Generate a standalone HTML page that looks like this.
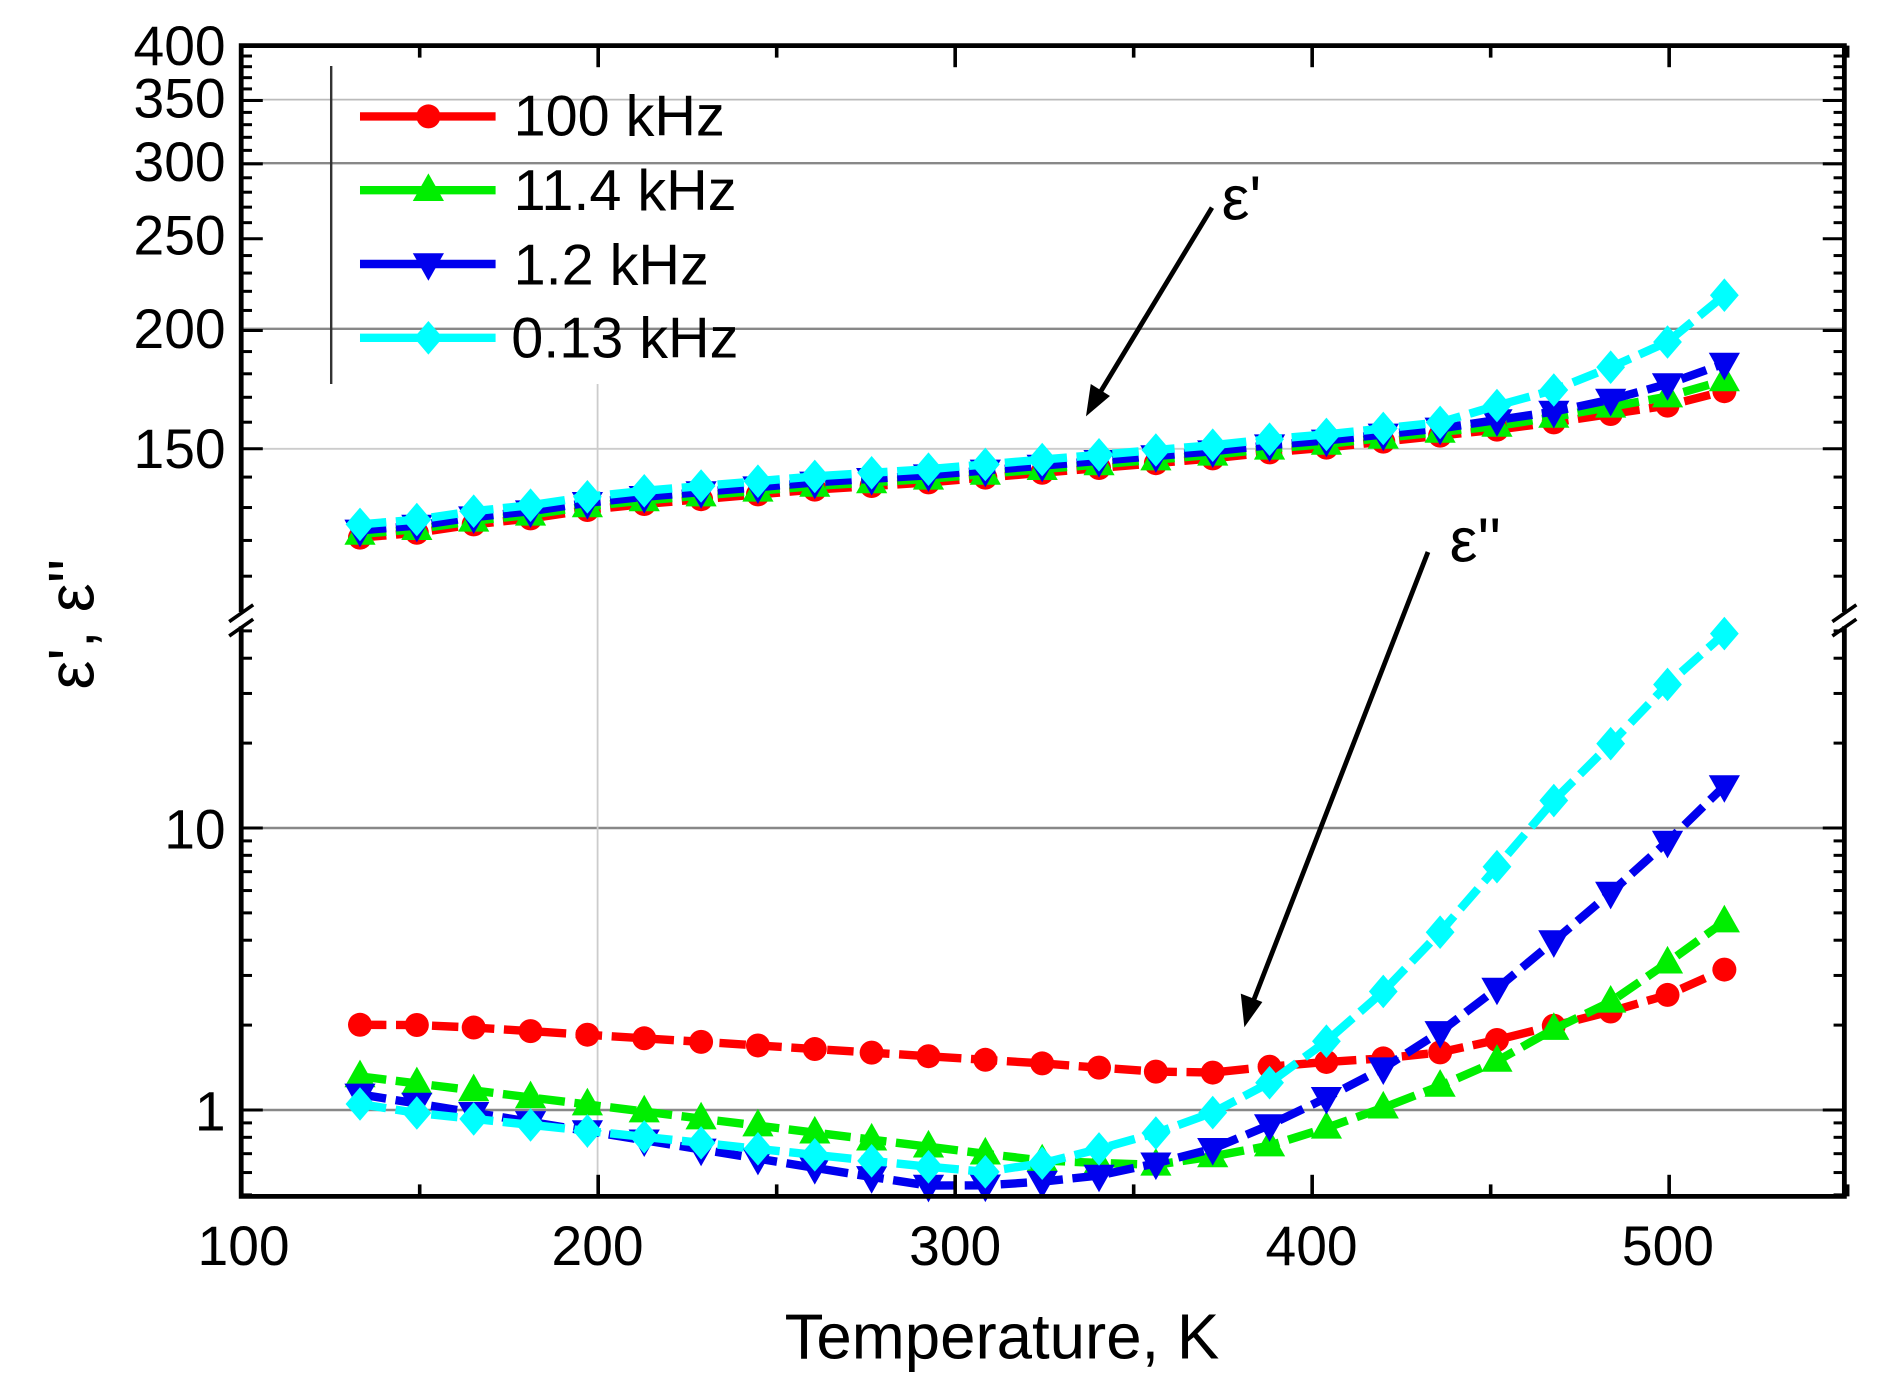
<!DOCTYPE html>
<html><head><meta charset="utf-8"><style>
html,body{margin:0;padding:0;background:#fff;}
svg{display:block;}
text{font-family:"Liberation Sans",Arial,sans-serif;fill:#000;}
</style></head><body>
<svg id="s" width="1880" height="1383" viewBox="0 0 1566.7 1152.5" xmlns="http://www.w3.org/2000/svg">
<g id="grid"></g>
<g id="data"></g>
<g id="axes"></g>
<line x1="276" y1="55" x2="276" y2="320" stroke="#333" stroke-width="2"/>
<g id="leg"></g>
<g font-size="48">
<text x="428" y="113">100 kHz</text>
<text x="428" y="175">11.4 kHz</text>
<text x="428" y="237">1.2 kHz</text>
<text x="426" y="298">0.13 kHz</text>
</g>
<line x1="1010" y1="173" x2="915" y2="330" stroke="#000" stroke-width="4"/>
<polygon points="905,347 909,320 925,330" fill="#000"/>
<text x="1018" y="183" font-size="52">ε'</text>
<line x1="1190" y1="460" x2="1043" y2="838" stroke="#000" stroke-width="4"/>
<polygon points="1037,856 1034,828 1052,835" fill="#000"/>
<text x="1208" y="468" font-size="52">ε''</text>
<g font-size="46" text-anchor="end">
<text x="188" y="54">400</text><text x="188" y="98">350</text><text x="188" y="151">300</text>
<text x="188" y="212">250</text><text x="188" y="290">200</text><text x="188" y="390">150</text>
<text x="188" y="707">10</text><text x="188" y="942">1</text>
</g>
<g font-size="46" text-anchor="middle">
<text x="203" y="1054">100</text><text x="498" y="1054">200</text><text x="796" y="1054">300</text>
<text x="1093" y="1054">400</text><text x="1390" y="1054">500</text>
</g>
<text x="835" y="1132" font-size="53" text-anchor="middle">Temperature, K</text>
<text transform="translate(78,520) rotate(-90)" font-size="54" text-anchor="middle">ε', ε''</text>
</svg>
<script>
const NS="http://www.w3.org/2000/svg";
function el(p,t,a){const e=document.createElementNS(NS,t);for(const k in a)e.setAttribute(k,a[k]);p.appendChild(e);return e;}
const grid=document.getElementById('grid'),axes=document.getElementById('axes'),data=document.getElementById('data'),leg=document.getElementById('leg');
const L=201,R=1537,T=38,B=997;
[[83,'#bbb',1.5],[136,'#888',2],[274,'#888',2],[374,'#ccc',1.5],[690,'#888',2],[925,'#888',2]].forEach(g=>el(grid,'line',{x1:L,x2:R,y1:g[0],y2:g[0],stroke:g[1],'stroke-width':g[2]}));
el(grid,'line',{x1:498,x2:498,y1:320,y2:B,stroke:'#ccc','stroke-width':1.5});
const bk1=510,bk2=522;
const ax={stroke:'#000','stroke-width':4,fill:'none'};
el(axes,'path',Object.assign({d:`M${L},${bk1} L${L},${T} L${R},${T} L${R},${bk1} M${R},${bk2} L${R},${B} L${L},${B} L${L},${bk2}`},ax));
[[L],[R]].forEach(([x])=>{el(axes,'line',{x1:x-10,y1:bk1+8,x2:x+10,y2:bk1-6,stroke:'#000','stroke-width':3});el(axes,'line',{x1:x-10,y1:bk2+8,x2:x+10,y2:bk2-6,stroke:'#000','stroke-width':3});});
for(let v=100;v<=550;v+=50){const x=L+(v-100)*2.975;const len=(v%100==0)?18:10;
 el(axes,'line',{x1:x,x2:x,y1:B,y2:B-len,stroke:'#000','stroke-width':3});el(axes,'line',{x1:x,x2:x,y1:T,y2:T+len,stroke:'#000','stroke-width':3});}
const yTop=v=>T+(Math.log(400)-Math.log(v))*342.5;
for(let v=110;v<=400;v+=10){const y=yTop(v);if(y>bk1)continue;const len=(v%50==0)?18:9;
 el(axes,'line',{x1:L,x2:L+len,y1:y,y2:y,stroke:'#000','stroke-width':2.5});el(axes,'line',{x1:R,x2:R-len,y1:y,y2:y,stroke:'#000','stroke-width':2.5});}
const yBot=v=>925-Math.log10(v)*235;
[0.5,0.6,0.7,0.8,0.9,1,2,3,4,5,6,7,8,9,10,20,30,40,50].forEach(v=>{const y=yBot(v);if(y<bk2||y>B)return;const len=(v==1||v==10)?18:9;
 el(axes,'line',{x1:L,x2:L+len,y1:y,y2:y,stroke:'#000','stroke-width':2.5});el(axes,'line',{x1:R,x2:R-len,y1:y,y2:y,stroke:'#000','stroke-width':2.5});});
const xs=[];for(let i=0;i<25;i++)xs.push(300+i*(1137/24));
function interp(anch){const out=[];for(let i=0;i<25;i++){const x=xs[i];let j=0;while(j<anch.length-2&&anch[j+1][0]<x)j++;const a=anch[j],b=anch[j+1];out.push(a[1]+(b[1]-a[1])*(x-a[0])/(b[0]-a[0]));}return out;}
const redT=[448,444,437,432,425,420,416,412,408,405,402,398,394,390,386,382,377,373,368,363,358,352,345,338,326];
const greenT=redT.map((v,i)=>v-3-(i>20?(i-20)*1.5:0));
const blueT=redT.map((v,i)=>v-6);blueT[21]=343;blueT[22]=333;blueT[23]=320;blueT[24]=303;blueT[20]=350;
const cyanT=redT.map((v,i)=>v-11);cyanT[20]=338;cyanT[21]=325;cyanT[22]=306;cyanT[23]=285;cyanT[24]=246;
const redB=interp([[300,854],[343,854],[390,856],[866,886],[961,893],[1009,894],[1057,889],[1105,885],[1153,882],[1200,877],[1246,867],[1294,855],[1342,843],[1390,829],[1437,808]]);
const greenB=interp([[300,897],[866,967],[961,971],[1009,964],[1057,955],[1105,940],[1153,923],[1200,905],[1246,885],[1294,858],[1342,835],[1390,802],[1437,768]]);
const blueB=interp([[300,912],[771,988],[818,988],[866,985],[914,980],[961,970],[1009,958],[1057,938],[1105,915],[1153,890],[1200,860],[1246,825],[1294,785],[1342,744],[1390,701],[1437,655]]);
const cyanB=interp([[300,920],[343,927],[818,977],[866,970],[914,958],[961,945],[1009,928],[1057,903],[1105,868],[1153,826],[1200,777],[1246,724],[1294,668],[1342,620],[1390,570],[1437,528]]);
function marker(p,type,x,y,c,s){s=s||1;
 if(type=='c')el(p,'circle',{cx:x,cy:y,r:10*s,fill:c});
 else if(type=='u')el(p,'polygon',{points:`${x},${y-14*s} ${x-13*s},${y+9*s} ${x+13*s},${y+9*s}`,fill:c});
 else if(type=='d')el(p,'polygon',{points:`${x},${y+14*s} ${x-13*s},${y-9*s} ${x+13*s},${y-9*s}`,fill:c});
 else el(p,'polygon',{points:`${x},${y-14*s} ${x+12*s},${y} ${x},${y+14*s} ${x-12*s},${y}`,fill:c});}
const series=[['#ff0000','c',redT,redB],['#00ee00','u',greenT,greenB],['#0000ee','d',blueT,blueB],['#00ffff','q',cyanT,cyanB]];
series.forEach(([c,m,t,b])=>{[t,b].forEach((ys,k)=>{const d=ys.map((y,i)=>(i?'L':'M')+xs[i].toFixed(1)+','+y.toFixed(1)).join(' ');
 el(data,'path',{d,stroke:c,'stroke-width':7,fill:'none','stroke-dasharray':'22 8'});
 ys.forEach((y,i)=>{if(y<=B+4)marker(data,m,xs[i],y,c);});});});
series.forEach(([c,m],i)=>{const y=97+i*61.5;el(leg,'line',{x1:300,x2:413,y1:y,y2:y,stroke:c,'stroke-width':7});marker(leg,m,357,y,c);});
</script>
</body></html>
